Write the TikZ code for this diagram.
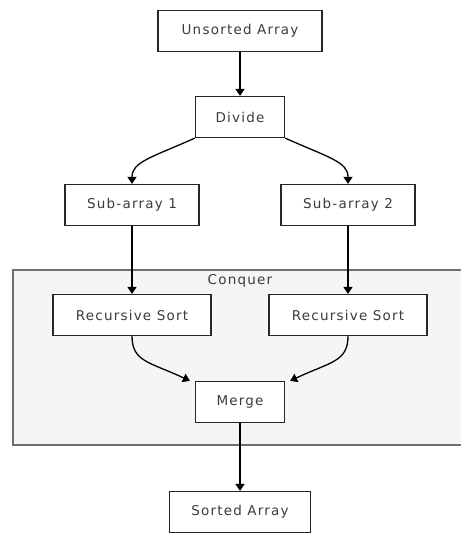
\documentclass[tikz,border=0pt]{standalone}
\usepackage{fontspec}
\setmainfont{DejaVu Sans}[LetterSpace=9]
\usetikzlibrary{arrows.meta,positioning}

\definecolor{txtgray}{HTML}{3C3C3C}
\definecolor{groupfill}{HTML}{F5F5F5}
\definecolor{groupline}{HTML}{6E6E6E}

\begin{document}
\begin{tikzpicture}[x=1pt,y=-1pt,>={Triangle[length=7pt,width=9pt]},font=\fontsize{13.5}{15}\selectfont]
\tikzstyle{st}=[draw=black!85,line width=1.2pt,fill=white,minimum height=41pt,inner xsep=8pt,text=txtgray]
\tikzstyle{con}=[->,line width=1.3pt,black]
\useasboundingbox (0,0) rectangle (460,534);
% conquer group
\draw[fill=groupfill,draw=groupline,line width=1.2pt] (13,270) rectangle (462,445);
\node[text=txtgray] (conquer) at (240,281) {Conquer};
\node[st,minimum width=164pt] (unsorted) at (240,31) {Unsorted Array};
\node[st,minimum width=89pt] (divide) at (240,117) {Divide};
\node[st,minimum width=134pt] (sub1) at (132,205) {Sub-array 1};
\node[st,minimum width=134pt] (sub2) at (348,205) {Sub-array 2};
\node[st,minimum width=158pt] (rec1) at (132,315) {Recursive Sort};
\node[st,minimum width=158pt] (rec2) at (348,315) {Recursive Sort};
\node[st,minimum width=89pt] (merge) at (240,402) {Merge};
\node[st,minimum width=141pt] (sorted) at (240,512) {Sorted Array};
\draw[con] (unsorted) -- (divide);
\draw[con] (divide.south west) .. controls (150,158) and (132,162) .. (sub1.north);
\draw[con] (divide.south east) .. controls (330,158) and (348,162) .. (sub2.north);
\draw[con] (sub1) -- (rec1);
\draw[con] (sub2) -- (rec2);
\draw[con] (rec1.south) .. controls (132,362) and (150,362) .. ([xshift=-5pt]merge.north west);
\draw[con] (rec2.south) .. controls (348,362) and (330,362) .. ([xshift=5pt]merge.north east);
\draw[con] (merge) -- (sorted);
\end{tikzpicture}
\end{document}
